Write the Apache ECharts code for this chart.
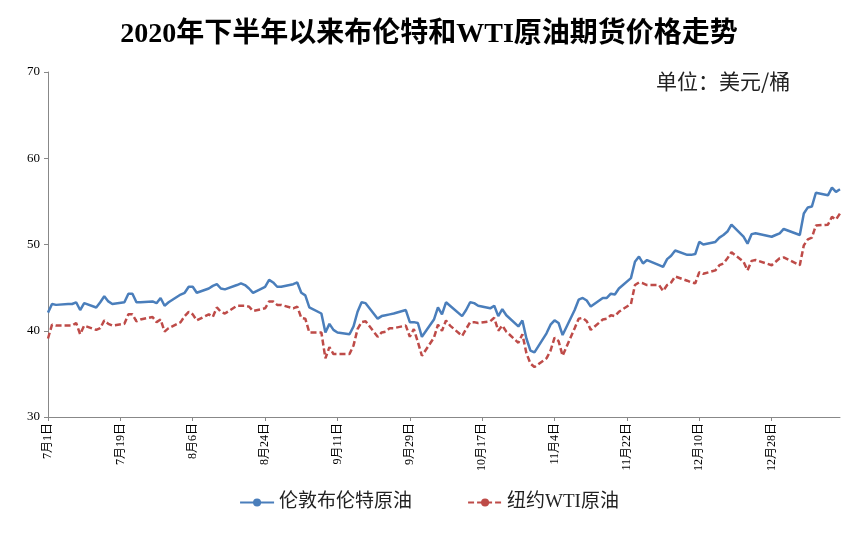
<!DOCTYPE html>
<html lang="zh">
<head>
<meta charset="UTF-8">
<title>布伦特和WTI原油期货价格走势</title>
<script src="https://cdn.jsdelivr.net/npm/echarts@6/dist/echarts.min.js"></script>
<style>
html,body{margin:0;padding:0;background:#fff;}
#chart{width:858px;height:537px;}
</style>
</head>
<body>
<div id="chart"></div>
<script>
// 交易日（月/日）
var tradeDays = ['7/1','7/2','7/3','7/6','7/7','7/8','7/9','7/10','7/13','7/14','7/15','7/16','7/17',
  '7/20','7/21','7/22','7/23','7/24','7/27','7/28','7/29','7/30','7/31',
  '8/3','8/4','8/5','8/6','8/7','8/10','8/11','8/12','8/13','8/14','8/17','8/18','8/19','8/20','8/21',
  '8/24','8/25','8/26','8/27','8/28','8/31','9/1','9/2','9/3','9/4','9/7','9/8','9/9','9/10','9/11',
  '9/14','9/15','9/16','9/17','9/18','9/21','9/22','9/23','9/24','9/25','9/28','9/29','9/30','10/1','10/2',
  '10/5','10/6','10/7','10/8','10/9','10/12','10/13','10/14','10/15','10/16','10/19','10/20','10/21','10/22','10/23',
  '10/26','10/27','10/28','10/29','10/30','11/2','11/3','11/4','11/5','11/6','11/9','11/10','11/11','11/12','11/13',
  '11/16','11/17','11/18','11/19','11/20','11/23','11/24','11/25','11/26','11/27','11/30','12/1','12/2','12/3','12/4',
  '12/7','12/8','12/9','12/10','12/11','12/14','12/15','12/16','12/17','12/18','12/21','12/22','12/23','12/24',
  '12/28','12/29','12/30','12/31','1/4','1/5','1/6','1/7','1/8','1/11','1/12','1/13','1/14'];

var brent = [42.1,43.1,43.0,43.1,43.1,43.3,42.4,43.2,42.7,43.3,44.0,43.4,43.1,
  43.3,44.3,44.3,43.3,43.3,43.4,43.2,43.8,42.9,43.3,
  44.2,44.4,45.1,45.1,44.4,44.9,45.2,45.4,44.9,44.8,45.3,45.5,45.3,44.9,44.4,
  45.1,45.9,45.6,45.1,45.1,45.4,45.6,44.4,44.1,42.7,42.0,39.8,40.8,40.1,39.8,
  39.6,40.5,42.2,43.3,43.2,41.4,41.7,41.8,41.9,42.0,42.4,41.0,41.0,40.9,39.3,
  41.3,42.7,41.9,43.3,42.9,41.7,42.4,43.3,43.2,42.9,42.6,42.9,41.7,42.5,41.8,
  40.5,41.2,39.1,37.7,37.5,39.7,40.7,41.2,40.9,39.5,42.4,43.6,43.8,43.5,42.8,
  43.8,43.8,44.3,44.2,44.9,46.1,48.0,48.6,47.8,48.2,47.6,47.4,48.3,48.7,49.3,
  48.8,48.8,48.9,50.3,50.0,50.3,50.8,51.1,51.5,52.3,50.9,50.1,51.2,51.3,
  50.9,51.1,51.3,51.8,51.1,53.6,54.3,54.4,56.0,55.7,56.6,56.1,56.4];

var wti = [39.1,40.7,40.6,40.6,40.6,40.9,39.6,40.6,40.1,40.3,41.2,40.8,40.6,
  40.8,41.9,41.9,41.1,41.3,41.6,41.0,41.3,39.9,40.3,
  41.0,41.7,42.2,41.9,41.2,41.9,41.6,42.7,42.2,42.0,42.9,42.9,42.9,42.8,42.3,
  42.6,43.4,43.4,43.0,43.0,42.6,42.8,41.5,41.4,39.8,39.8,36.8,38.1,37.3,37.3,
  37.3,38.3,40.2,41.0,41.1,39.3,39.8,39.9,40.3,40.3,40.6,39.3,40.2,38.7,37.1,
  39.2,40.7,40.0,41.2,40.6,39.4,40.2,41.0,41.0,40.9,41.1,41.5,40.0,40.6,39.9,
  38.6,39.6,37.4,36.2,35.8,36.8,37.7,39.2,38.8,37.1,40.3,41.4,41.5,41.1,40.1,
  41.3,41.4,41.8,41.7,42.2,43.1,45.3,45.6,45.5,45.3,45.3,44.6,45.3,45.6,46.3,
  45.8,45.6,45.5,46.8,46.6,47.0,47.6,47.8,48.4,49.1,48.0,47.0,48.1,48.2,
  47.6,48.0,48.4,48.5,47.6,49.9,50.6,50.8,52.2,52.3,53.2,52.9,53.6];

// 日历日类目（7月1日 至 1月14日）
var monthDays = {7:31, 8:31, 9:30, 10:31, 11:30, 12:31, 1:14};
var months = [7, 8, 9, 10, 11, 12, 1];
var categories = [];
var keys = [];
months.forEach(function (m) {
  for (var d = 1; d <= monthDays[m]; d++) {
    categories.push(m + '月' + d + '日');
    keys.push(m + '/' + d);
  }
});

function toSeries(vals) {
  var out = keys.map(function () { return null; });
  tradeDays.forEach(function (k, i) { out[keys.indexOf(k)] = vals[i]; });
  return out;
}

var serif = '"Liberation Serif","Noto Sans CJK SC",serif';
var chart = echarts.init(document.getElementById('chart'));
chart.setOption({
  animation: false,
  title: {
    text: '2020年下半年以来布伦特和WTI原油期货价格走势',
    left: 'center', top: 16,
    textStyle: {fontFamily: serif, fontWeight: 'bold', fontSize: 28, color: '#000'}
  },
  graphic: [{
    type: 'text', left: 656, top: 71,
    style: {text: '单位：美元/桶', font: '21px "Noto Sans CJK SC"', fill: '#222'}
  }],
  legend: {
    bottom: 20, left: 'center', itemGap: 55, itemWidth: 34, itemHeight: 10,
    textStyle: {fontFamily: serif, fontSize: 19, color: '#222'},
    data: ['伦敦布伦特原油', '纽约WTI原油']
  },
  grid: {left: 48, right: 18, top: 72, bottom: 120},
  xAxis: {
    type: 'category', data: categories, boundaryGap: false,
    axisLine: {lineStyle: {color: '#888'}},
    axisTick: {interval: 17, length: 4, lineStyle: {color: '#888'}},
    axisLabel: {interval: 17, rotate: 90, fontFamily: serif, fontSize: 12, color: '#000', margin: 6}
  },
  yAxis: {
    type: 'value', min: 30, max: 70, interval: 10,
    splitLine: {show: false},
    axisLine: {show: true, lineStyle: {color: '#888'}},
    axisTick: {show: true, length: 4, lineStyle: {color: '#888'}},
    axisLabel: {fontFamily: serif, fontSize: 13, color: '#000'}
  },
  series: [
    {
      name: '伦敦布伦特原油', type: 'line', data: toSeries(brent), connectNulls: true,
      showSymbol: false, symbol: 'none', color: '#4a7ebb',
      lineStyle: {width: 2.5, color: '#4a7ebb'}
    },
    {
      name: '纽约WTI原油', type: 'line', data: toSeries(wti), connectNulls: true,
      showSymbol: false, symbol: 'none', color: '#be4b48',
      lineStyle: {width: 2.5, type: [6, 3], color: '#be4b48'}
    }
  ]
});
</script>
</body>
</html>
